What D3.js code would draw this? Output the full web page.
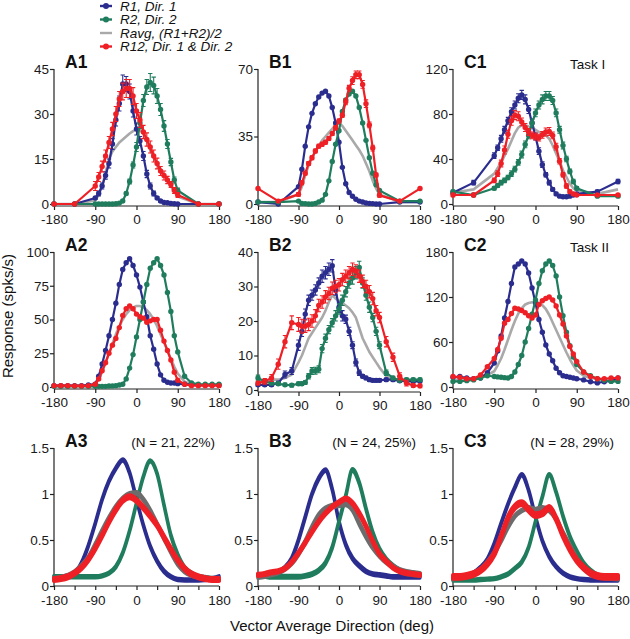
<!DOCTYPE html>
<html><head><meta charset="utf-8">
<script src="https://cdn.jsdelivr.net/npm/d3@7"></script>
<style>html,body{margin:0;padding:0;background:#fff}svg{display:block}</style>
</head><body>
<svg id="c" width="630" height="639"></svg>
<script>
// ---------- direction grids (deg) ----------
const dirs1 = [-180,-135,-90,-82.5,-75,-67.5,-60,-52.5,-45,-37.5,-30,-22.5,-15,-7.5,0,7.5,15,22.5,30,37.5,45,52.5,60,67.5,75,82.5,90,135,180];
const dirs2 = [-180,-165,-150,-135,-120,-105,-90,-82.5,-75,-67.5,-60,-52.5,-45,-37.5,-30,-22.5,-15,-7.5,0,7.5,15,22.5,30,37.5,45,52.5,60,67.5,75,82.5,90,105,120,135,150,165,180];
const dirs3 = [-180,-165,-150,-135,-120,-105,-90,-75,-60,-45,-30,-15,0,15,30,45,60,75,90,105,120,135,150,165,180];

// ---------- tick labels ----------
const xTicksMain = [-180,-90,0,90,180];
const xTicksMinor3 = [-180,-135,-90,-45,0,45,90,135,180];
const yTicksA1 = [0,15,30,45];
const yTicksB1 = [0,35,70];
const yTicksC1 = [0,40,80,120];
const yTicksA2 = [0,25,50,75,100];
const yTicksB2 = [0,10,20,30,40];
const yTicksC2 = [0,60,120,180];
const yTicks3 = [0,0.5,1,1.5];

// ---------- A1 ----------
const a1R1   = [0,0,2,3.5,6,9.5,13.5,20,28,33.5,40,40,37.5,31,25,21,16,10,6,3.5,2,1,0.5,0.4,0.2,0.1,0,0,0];
const a1R2   = [0,0,0,0,0,0,0,0,0.1,0.3,1,3.5,7.5,13,19,27,34.5,39,40.5,39.5,36,31.5,26,20,14,8,4.5,0,0];
const a1R12  = [0,0,6,9,12.5,16,20.5,25,30,35,37.5,38.5,38.5,36,31,28,24,21.5,19,16,13.5,11,9.5,8,6.5,4.5,3,0,0];
const a1Ravg = [0,0,1.2,3,6,10.5,15,17.5,19,20.5,21.5,22.5,23.5,24.3,24.8,24.7,23.5,21,18,15.5,13.5,11.5,9.5,8,6,4,2.5,0,0];
const a1E1   = [0,0,0.5,0.8,1,1.2,1.5,1.8,2,2.5,3,2.5,2.5,2,2,1.5,1.5,1.2,1,0.8,0.5,0.3,0.2,0.2,0.1,0.1,0,0,0];
const a1E2   = [0,0,0,0,0,0,0,0,0,0.1,0.3,0.5,0.8,1,1.5,1.8,2,2.5,3,2.8,2.5,2,1.8,1.5,1.2,1,0.8,0,0];
const a1E12  = [0,0,1.5,1.5,1.8,2,2,2.2,2.5,2.5,2.8,3,3,2.8,2.5,2.5,2.2,2.2,2,2,1.8,1.5,1.5,1.2,1,1,0.8,0,0];

// ---------- B1 ----------
const b1R1   = [1,0,9,18,30,40,47,52,55.5,57.5,58.5,56,50,42,32,19,10.5,6,4,2.5,1.5,1,0.5,0.3,0.2,0,0,1,1];
const b1R2   = [1,1,1.5,0.3,0.2,0,0,0.3,1,2,5,12,22,31,38,48,54,57,58.5,56,50,42,33,24,16,10,7,1.5,1.5];
const b1R12  = [8,1.5,5,11,16,21,24,27.5,30,31,32,34,36.5,39.5,43,46,53,60,64,67,67,62,52,41,29,15,4.5,1.5,8];
const b1Ravg = [1,1,5,9,15,20,24,27,30,33,35,37,39,41,42,40.5,38,35.5,33,30.5,28,25,21,17,12,8,5,1,1];
const b1E12  = [0,0,1,1,1,1,1,1,1,1,1,1,1,1,1,1,1.5,1.5,2,2,2,2,2,1.5,1.5,1,1,0,0];

// ---------- C1 ----------
const c1R1   = [10,19,43,50,58,66,74,82,88,94,97,93,84,72,60,47,35,26,19,13,9,7,6.5,6.5,7,8,9,11,20];
const c1R2   = [11,8,14,16.5,19,21,23.5,27,31,37,44,53,61,72,81,88,93,96,96,92,81,66,52,40,29,20,14,7,7];
const c1R12  = [8,8,21,27,36,48,62,74,79,78,73,68,64,61,60,59,61.5,64,64.5,61,51,38,26,16,11,9,8,8,8];
const c1Ravg = [10,13,27,32,37,43,49,56,63,68,70,70,69,68,66,64,63,61,58,52,45,38,30,24,18,14,12,9,13];
const c1E1   = [1.5,2,2.5,2.5,3,3,3,3.5,3.5,4,4,4,3.5,3.5,3,3,2.5,2,2,1.5,1.5,1,1,1,1,1,1,1.5,2];
const c1E2   = [1.5,1.5,1.5,1.5,2,2,2,2.5,2.5,2.5,3,3,3,3.5,3.5,3.5,4,4,4,3.5,3.5,3,3,2.5,2,2,1.5,1,1];
const c1E12  = [1.5,1.5,2,2.5,3,3.5,3.5,4,4,4,3.5,3.5,3,3,3,3,3,3.5,3.5,3,3,2.5,2,2,1.5,1.5,1,1,1];

// ---------- A2 ----------
const a2R1   = [1,1,1,1,1,1.5,2,8,17,27,38,50,62,76,87,92,95,90,83,74,63,52,38,28,17,9,5,3.5,3,3,2.5,2,2,1.5,1.5,1.5,1.5];
const a2R2   = [0.5,0.5,0.5,0.5,0.5,0.5,0.5,0.5,0.5,0.5,0.7,0.8,1,1.5,2,6,14,24,37,50,63,76,88,92,95,90,83,70,56,38,26,8,3,2,2,2,2];
const a2R12  = [1,1,1,0.8,0.8,1,2,6,12,18,25,31,36,44,53,58,60,58,54,52,51,48,49,50,50,42,34,27,20,11,5,2,1,1,1,1,1];
const a2Ravg = [1,1,1,1,1,1.2,2.5,6,11,18,25,32,39,45,50,54,57,59,60,60,59,57,54,50,45,39,33,27,21,15,10,4,2,1.5,1.5,1.5,1.5];

// ---------- B2 ----------
const b2R1   = [1.5,1.5,1.5,2,4.5,5.5,13,17,22,26,27.5,29,31,33,34,35,36,29,24,21.5,20.5,17,13,8,5,4,3.5,3,2.8,2.8,2.8,3,3,2.7,2.6,2.6,2.6];
const b2R2   = [3.5,2.5,2,1.8,1.5,1.4,1.8,1.8,2.2,4,5.5,5.6,6,12,15,17.5,19.5,21.5,23.5,26,28.5,31,32.5,34,35.5,31,27.5,24,21,17,13,5,3.5,2.8,3,3,3];
const b2R12  = [2,2.5,3.5,7.5,14,19.5,19,18.5,18.5,19,20,21.5,24.5,25.5,27,28,29.5,30,30.5,32,33,34,35,34.5,33,31.5,30,28.5,26.5,23,21,14,9.5,4,2,1.3,1.2];
const b2Ravg = [2.5,2.5,3,3,3.5,4.5,8,10,12.5,15,16.5,18,19.5,21,23,25.5,27.5,26.5,25.8,25.2,24.5,23.7,22.5,21,18,15,13,11,9.5,8,6.5,4,3,2.7,2.5,2.5,2.5];
const b2E1   = [0.5,0.5,0.5,0.5,1,1,1.5,1.5,1.5,1.5,1.5,1.5,1.5,1.8,1.8,1.8,1.8,1.5,1.5,1.5,1.2,1.2,1,1,0.8,0.5,0.5,0.5,0.5,0.5,0.5,0.5,0.5,0.5,0.5,0.5,0.5];
const b2E2   = [0.8,0.5,0.5,0.5,0.5,0.5,0.5,0.5,0.5,0.8,1,1,1,1.2,1.2,1.2,1.2,1.5,1.5,1.5,1.5,1.5,1.8,1.8,1.8,1.5,1.5,1.5,1.2,1.2,1,0.8,0.5,0.5,0.5,0.5,0.5];
const b2E12  = [0.5,0.8,1,1.5,1.8,2,2,2,1.8,1.8,1.8,1.8,1.8,1.8,1.8,1.8,1.8,1.8,1.8,1.8,1.8,1.8,1.8,1.8,1.8,1.8,1.8,1.8,1.8,1.5,1.5,1.5,1.2,1,0.8,0.5,0.5];

// ---------- C2 ----------
const c2R1   = [13,14,12,11,12,19,32,48,68,92,114,138,160,164,168,164,152,132,112,90,73,56,44,35,25,19,15,14,13,12,11,9.5,7,5.5,7,8,12];
const c2R2   = [7.5,7.5,8.5,9.5,12,15,14,13.5,13,12.5,12,14,20,30,42,60,78,97,116,138,155,164,168,162,148,120,95,73,55,40,30,20,15,11,9,7.5,7.5];
const c2R12  = [14,13,11,11,16,27,38,50,65,85,90,98,105,104,102,99,95,92,96,110,115,118,120,116,108,96,84,68,54,44,34,20,14,11,11,12,12];
const c2Ravg = [10,10,10,11,13,16,21,29,38,50,63,76,88,98,105,110,112,113,113,112,109,104,96,86,76,66,56,46,37,29,22,15,12,11,10,10,10];

// ---------- Row 3 population means (normalized) ----------
const a3R1   = [0.1,0.1,0.11,0.14,0.25,0.44,0.68,0.94,1.14,1.28,1.37,1.23,0.94,0.66,0.43,0.27,0.16,0.1,0.07,0.065,0.065,0.065,0.07,0.08,0.1];
const a3R2   = [0.1,0.1,0.1,0.1,0.1,0.1,0.1,0.11,0.14,0.21,0.36,0.6,0.9,1.19,1.36,1.22,0.88,0.55,0.34,0.2,0.14,0.1,0.09,0.08,0.07];
const a3Ravg = [0.08,0.09,0.11,0.15,0.22,0.31,0.45,0.6,0.74,0.86,0.95,1.0,1.01,0.94,0.82,0.67,0.52,0.37,0.24,0.16,0.12,0.1,0.09,0.08,0.08];
const a3R12  = [0.07,0.08,0.1,0.14,0.2,0.29,0.41,0.55,0.7,0.83,0.93,0.97,0.93,0.85,0.76,0.66,0.53,0.4,0.28,0.19,0.13,0.1,0.08,0.07,0.07];
const a3Sem  = [0.012,0.012,0.014,0.016];

const b3R1   = [0.12,0.12,0.13,0.15,0.2,0.3,0.5,0.75,1.0,1.17,1.26,1.05,0.7,0.45,0.3,0.22,0.16,0.13,0.12,0.11,0.1,0.1,0.1,0.1,0.1];
const b3R2   = [0.12,0.11,0.1,0.1,0.1,0.1,0.1,0.11,0.13,0.17,0.25,0.42,0.7,0.98,1.26,1.12,0.84,0.58,0.4,0.29,0.22,0.17,0.14,0.13,0.12];
const b3Ravg = [0.1,0.11,0.13,0.15,0.19,0.25,0.35,0.48,0.64,0.77,0.84,0.87,0.88,0.89,0.83,0.68,0.54,0.42,0.33,0.26,0.21,0.17,0.15,0.14,0.13];
const b3R12  = [0.12,0.13,0.15,0.16,0.19,0.26,0.36,0.47,0.59,0.7,0.79,0.86,0.91,0.95,0.9,0.79,0.65,0.49,0.35,0.27,0.2,0.16,0.14,0.13,0.12];
const b3Sem  = [0.014,0.015,0.016,0.012];

const c3R1   = [0.08,0.09,0.11,0.14,0.2,0.29,0.46,0.68,0.89,1.07,1.21,1.04,0.75,0.49,0.32,0.21,0.14,0.1,0.08,0.07,0.065,0.065,0.065,0.065,0.065];
const c3R2   = [0.065,0.065,0.065,0.065,0.07,0.075,0.08,0.1,0.13,0.19,0.26,0.42,0.7,0.97,1.21,1.02,0.76,0.54,0.38,0.25,0.17,0.12,0.1,0.09,0.08];
const c3Ravg = [0.08,0.09,0.11,0.14,0.18,0.26,0.36,0.49,0.64,0.76,0.82,0.85,0.83,0.85,0.82,0.73,0.58,0.44,0.3,0.2,0.14,0.11,0.09,0.085,0.08];
const c3R12  = [0.1,0.1,0.11,0.13,0.17,0.24,0.35,0.54,0.74,0.86,0.9,0.83,0.77,0.79,0.85,0.73,0.55,0.4,0.28,0.2,0.14,0.11,0.1,0.1,0.1];
const c3Sem  = [0.012,0.012,0.012,0.02];

// ---------- text ----------
const legendLabels = ["R1, Dir. 1","R2, Dir. 2","Ravg, (R1+R2)/2","R12, Dir. 1 & Dir. 2"];
const nLabels = ["(N = 21, 22%)","(N = 24, 25%)","(N = 28, 29%)"];

// ---------- styles ----------
const BLUE="#2b2d8e", GREEN="#1f7d5d", RED="#ee1f25", GRAY="#a9a9a9", DGRAY="#6c6c6c";
const FONT="'Liberation Sans', Arial, Helvetica, sans-serif";

const svg = d3.select("#c");
const cols = [[54,219],[258,420],[453,618]];
const rows = [{top:69, zero:204, ax:206},{top:252, zero:387, ax:389},{top:448, zero:586, ax:586}];

const panels = [
 {lab:"A1", c:0, r:0, dirs:dirs1, yt:yTicksA1, R1:a1R1, R2:a1R2, Ra:a1Ravg, R12:a1R12, E1:a1E1, E2:a1E2, E12:a1E12},
 {lab:"B1", c:1, r:0, dirs:dirs1, yt:yTicksB1, R1:b1R1, R2:b1R2, Ra:b1Ravg, R12:b1R12, E12:b1E12},
 {lab:"C1", c:2, r:0, dirs:dirs1, yt:yTicksC1, R1:c1R1, R2:c1R2, Ra:c1Ravg, R12:c1R12, E1:c1E1, E2:c1E2, E12:c1E12, task:"Task I"},
 {lab:"A2", c:0, r:1, dirs:dirs2, yt:yTicksA2, R1:a2R1, R2:a2R2, Ra:a2Ravg, R12:a2R12},
 {lab:"B2", c:1, r:1, dirs:dirs2, yt:yTicksB2, R1:b2R1, R2:b2R2, Ra:b2Ravg, R12:b2R12, E1:b2E1, E2:b2E2, E12:b2E12, zero:390},
 {lab:"C2", c:2, r:1, dirs:dirs2, yt:yTicksC2, R1:c2R1, R2:c2R2, Ra:c2Ravg, R12:c2R12, task:"Task II"},
 {lab:"A3", c:0, r:2, dirs:dirs3, yt:yTicks3, R1:a3R1, R2:a3R2, Ra:a3Ravg, R12:a3R12, sem:a3Sem, n:nLabels[0]},
 {lab:"B3", c:1, r:2, dirs:dirs3, yt:yTicks3, R1:b3R1, R2:b3R2, Ra:b3Ravg, R12:b3R12, sem:b3Sem, n:nLabels[1]},
 {lab:"C3", c:2, r:2, dirs:dirs3, yt:yTicks3, R1:c3R1, R2:c3R2, Ra:c3Ravg, R12:c3R12, sem:c3Sem, n:nLabels[2]},
];

panels.forEach(p => {
  const [x0,x1] = cols[p.c];
  const row = rows[p.r];
  const zero = p.zero || row.zero;
  const ax = p.zero ? p.zero + 2 : row.ax;
  const yMax = p.yt[p.yt.length-1];
  const x = d3.scaleLinear().domain([-180,180]).range([x0,x1]);
  const y = d3.scaleLinear().domain([0,yMax]).range([zero,row.top]);
  const g = svg.append("g");

  // axes
  const xAxis = d3.axisBottom(x).tickValues(p.r===2 ? xTicksMinor3 : xTicksMain)
     .tickSize(4).tickFormat(d => xTicksMain.includes(d) ? d : "");
  const gx = g.append("g").attr("transform",`translate(0,${ax})`).call(xAxis);
  const yAxis = d3.axisLeft(y).tickValues(p.yt).tickSize(4).tickFormat(d=>d);
  const gy = g.append("g").attr("transform",`translate(${x0},0)`).call(yAxis);
  [gx,gy].forEach(a=>{
    a.select(".domain").attr("stroke","#222").attr("stroke-width",1.2);
    a.selectAll(".tick line").attr("stroke","#222").attr("stroke-width",1.2);
    a.selectAll(".tick text").attr("font-family",FONT).attr("font-size",13.5).attr("fill","#1a1a1a");
  });
  gx.select(".domain").attr("d",`M${x0},0H${x1}`);
  gy.select(".domain").attr("d",`M0,${row.top}V${ax}`);
  gx.selectAll(".tick text").attr("dy","0.95em").attr("y",p.r===2 ? 6 : 5);
  gy.selectAll(".tick text").attr("x",-5);

  if (p.r < 2) {
    const series = [
      {v:p.Ra, col:GRAY, mark:false},
      {v:p.R1, col:BLUE, mark:true, e:p.E1},
      {v:p.R2, col:GREEN, mark:true, e:p.E2},
      {v:p.R12, col:RED, mark:true, e:p.E12},
    ];
    const line = d3.line().x((d,i)=>x(p.dirs[i])).y(d=>y(d));
    series.forEach(s=>{
      g.append("path").attr("d",line(s.v)).attr("fill","none")
        .attr("stroke",s.col).attr("stroke-width",s.mark?2.2:2.6).attr("stroke-linejoin","round");
      if (s.e) {
        s.v.forEach((v,i)=>{
          const e = s.e[i]; if (!e) return;
          const xx = x(p.dirs[i]), ya=y(v+e), yb=y(Math.max(0,v-e));
          g.append("path").attr("d",`M${xx},${ya}V${yb}M${xx-2.2},${ya}H${xx+2.2}M${xx-2.2},${yb}H${xx+2.2}`)
            .attr("stroke",s.col).attr("stroke-width",1.1).attr("fill","none");
        });
      }
      if (s.mark) {
        g.selectAll(null).data(s.v).enter().append("circle")
          .attr("cx",(d,i)=>x(p.dirs[i])).attr("cy",d=>y(d)).attr("r",2.7).attr("fill",s.col);
      }
    });
  } else {
    const series = [
      {v:p.R1, col:BLUE, w:p.sem[0], sw:3.2},
      {v:p.R2, col:GREEN, w:p.sem[1], sw:3.2},
      {v:p.Ra, col:DGRAY, w:p.sem[2], sw:3.4},
      {v:p.R12, col:RED, w:p.sem[3], sw:4},
    ];
    series.forEach(s=>{
      const area = d3.area().curve(d3.curveMonotoneX)
        .x((d,i)=>x(p.dirs[i])).y0(d=>y(d - s.w)).y1(d=>y(d + s.w));
      g.append("path").attr("d",area(s.v)).attr("fill",s.col)
        .attr("stroke",s.col).attr("stroke-width",s.sw).attr("stroke-linejoin","round");
    });
  }

  // panel label
  g.append("text").attr("x",x0+11).attr("y",row.top-1).text(p.lab)
    .attr("font-family",FONT).attr("font-weight","bold").attr("font-size",17.5).attr("fill","#111");
  if (p.task) g.append("text").attr("x",x1-48).attr("y",row.top).text(p.task)
    .attr("font-family",FONT).attr("font-size",13.5).attr("fill","#111");
  if (p.n) g.append("text").attr("x",x1-4).attr("y",row.top-1).attr("text-anchor","end").text(p.n)
    .attr("font-family",FONT).attr("font-size",13.5).attr("fill","#111");
});

// legend
const legCols = [BLUE, GREEN, GRAY, RED];
legendLabels.forEach((t,i)=>{
  const by = 10.5 + i*13.5, cy = by - 4.5;
  svg.append("line").attr("x1",100).attr("x2",112).attr("y1",cy).attr("y2",cy)
    .attr("stroke",legCols[i]).attr("stroke-width",2.4);
  if (i!==2) svg.append("circle").attr("cx",106).attr("cy",cy).attr("r",3).attr("fill",legCols[i]);
  svg.append("text").attr("x",120).attr("y",by).text(t).attr("font-family",FONT)
    .attr("font-style","italic").attr("font-size",13.5).attr("fill","#111");
});

// axis titles
svg.append("text").attr("transform","translate(13,316) rotate(-90)").attr("text-anchor","middle")
  .text("Response (spks/s)").attr("font-family",FONT).attr("font-size",15).attr("fill","#111");
svg.append("text").attr("x",332).attr("y",631).attr("text-anchor","middle")
  .text("Vector Average Direction (deg)").attr("font-family",FONT).attr("font-size",15).attr("fill","#111");
</script>
</body></html>
